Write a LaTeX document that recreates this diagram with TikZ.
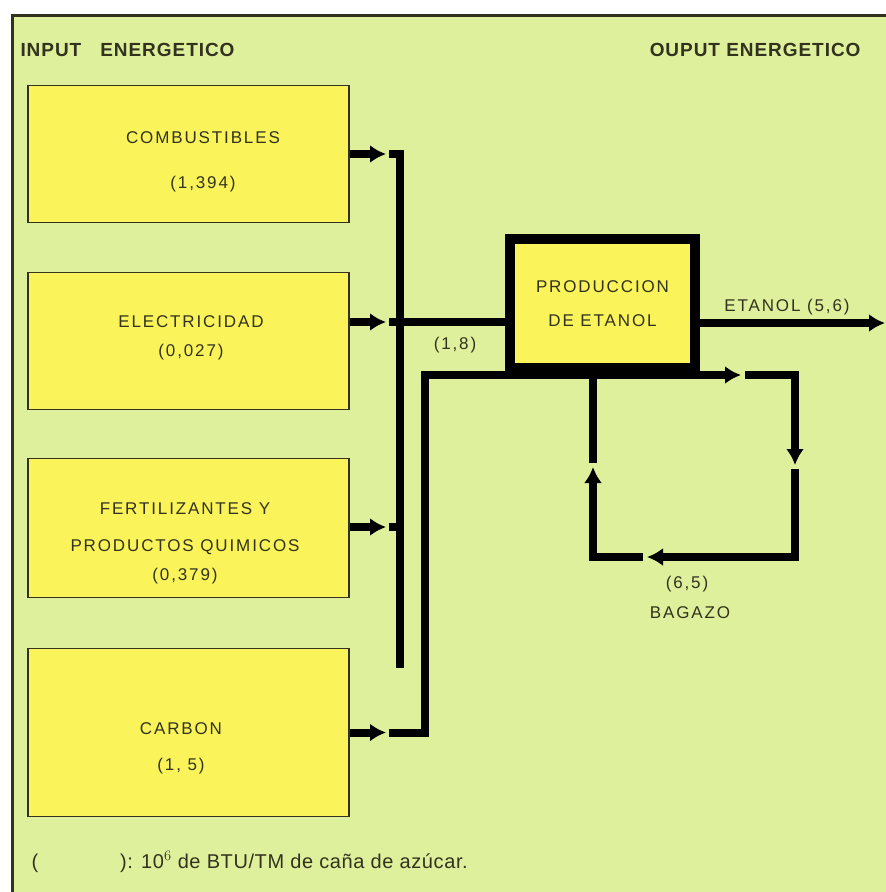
\documentclass[tikz,border=0pt]{standalone}
\usepackage{fontspec}
\setmainfont{Liberation Sans}
\usetikzlibrary{arrows.meta,positioning,calc}
\definecolor{bggreen}{RGB}{222,240,155}
\definecolor{boxyellow}{RGB}{250,244,90}
\definecolor{inkdark}{RGB}{50,50,30}

\tikzset{
  inbox/.style={draw=inkdark,line width=1.6pt,fill=boxyellow,minimum width=321pt,inner sep=0pt},
  prodbox/.style={draw=black,line width=10pt,fill=boxyellow,minimum width=185pt,minimum height=129pt,
    align=center,text=inkdark,font=\fontsize{17}{20}\selectfont\addfontfeature{LetterSpace=11}},
  flow/.style={line width=8pt,draw=black},
  flowtip/.style={-{Latex[length=16pt,width=18pt]}},
  boxtxt/.style={align=center,text=inkdark,font=\fontsize{17}{20}\selectfont\addfontfeature{LetterSpace=11}},
  head/.style={font=\fontsize{19}{22}\selectfont\bfseries\addfontfeature{LetterSpace=5},text=inkdark},
}

\begin{document}
\begin{tikzpicture}[x=1pt,y=-1pt]
  \useasboundingbox (0,0) rectangle (886,892);
  \clip (0,0) rectangle (886,892);
  % frame
  \fill[bggreen] (12,15) rectangle (892,898);
  \draw[line width=3pt,inkdark] (12,898) -- (12,15) -- (892,15);
  \node[head,anchor=west] (inhead) at (17,50) {INPUT\quad ENERGETICO};
  \node[head,anchor=east] (outhead) at (864,50) {OUPUT ENERGETICO};

  % input boxes
  \node[inbox,minimum height=137pt] (comb) at (188.5,154) {};
  \node[inbox,minimum height=137pt] (elec) at (188.5,341) {};
  \node[inbox,minimum height=139pt] (fert) at (188.5,528) {};
  \node[inbox,minimum height=168pt] (carb) at (188.5,732.5) {};
  \node[boxtxt] (combtxt) at (203,161.5) {COMBUSTIBLES\\[25pt](1,394)};
  \node[boxtxt] (electxt) at (191,337.5) {ELECTRICIDAD\\[9pt](0,027)};
  \node[boxtxt] (ferttxt) at (185,543) {FERTILIZANTES Y\\[17pt]PRODUCTOS QUIMICOS\\[9pt](0,379)};
  \node[boxtxt] (carbtxt) at (181,748) {CARBON\\[16pt](1, 5)};

  % process
  \node[prodbox] (prod) at (602.5,303.5) {PRODUCCION\\[14pt]DE ETANOL};

  % collector
  \coordinate (j1) at (400,154);
  \coordinate (j2) at (400,322);
  \coordinate (j3) at (400,527);
  \coordinate (jend) at (400,668);
  \coordinate (c0) at (425,732.5);
  \coordinate (c1) at (425,375);
  \coordinate (r1) at (795,375);
  \coordinate (r2) at (795,557);
  \coordinate (l2) at (593,557);
  \coordinate (l1) at (593,375);

  \draw[flow,flowtip] (comb.east) -- (386,154);
  \draw[flow] (389,154) -- (j1) -- (jend);
  \draw[flow,flowtip] (elec.east |- j2) -- (386,322);
  \draw[flow] (389,322) -- (prod.west |- j2);
  \draw[flow,flowtip] (fert.east |- j3) -- (386,527);
  \draw[flow] (389,527) -- (j3);
  \draw[flow,flowtip] (carb.east) -- (386,732.5);
  \draw[flow,flowtip] (389,732.5) -- (c0) -- (c1) -- (741,375);

  % bagazo loop
  \draw[flow,flowtip] (745,375) -- (r1) -- (795,465);
  \draw[flow,flowtip] (795,469) -- (r2) -- (647,557);
  \draw[flow,flowtip] (643,557) -- (l2) -- (593,467);
  \draw[flow] (593,463) -- (l1);

  % output
  \draw[flow,flowtip] (prod.east |- 0,323) -- (885,323);

  \node[boxtxt] (lbl18) at (455,345) {(1,8)};
  \node[boxtxt] (lbletanol) at (787,307) {ETANOL (5,6)};
  \node[boxtxt] (lbl65) at (687,584) {(6,5)};
  \node[boxtxt] (lblbagazo) at (690,613) {BAGAZO};

  % footnote
  \node[anchor=west,text=inkdark,font=\fontsize{20}{23}\selectfont\addfontfeature{LetterSpace=3}] (fnote) at (28,862)
    {(\hspace{82pt}): 10$^6$ de BTU/TM de caña de azúcar.};
\end{tikzpicture}
\end{document}
